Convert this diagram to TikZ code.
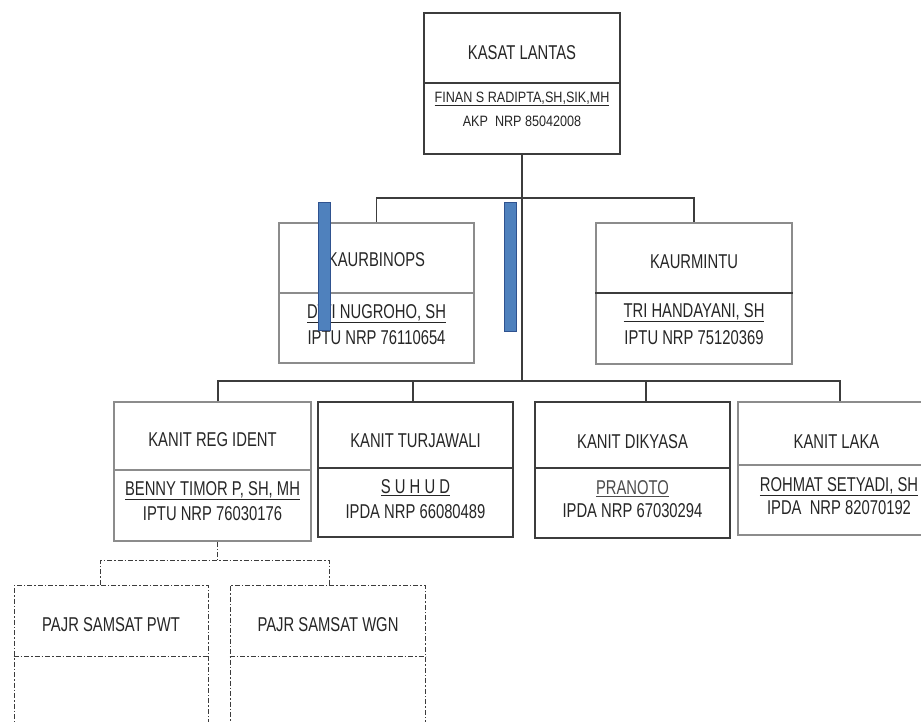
\documentclass[tikz,border=0pt]{standalone}
\usepackage{fontspec}
\setmainfont{Liberation Sans}[FakeStretch=0.74]
\newfontfamily\smallnarrow{Liberation Sans}[FakeStretch=0.84]
\definecolor{linec}{HTML}{3C3C3C}
\definecolor{greyc}{HTML}{8C8C8C}
\definecolor{barfill}{HTML}{4F81BD}
\definecolor{bardraw}{HTML}{2F528F}
\begin{document}
\begin{tikzpicture}[x=1pt,y=-1pt,
  darkbox/.style={draw=linec, line width=1.3pt, rectangle, inner sep=0pt},
  greybox/.style={draw=greyc, line width=1.5pt, rectangle, inner sep=0pt},
  dashbox/.style={draw=linec, line width=1pt, dash pattern=on 5pt off 2pt on 1.5pt off 2pt, rectangle, inner sep=0pt},
  ttl/.style={inner sep=0pt, font=\fontsize{20}{22}\selectfont, text=black!85},
  sub/.style={inner sep=0pt, font=\fontsize{20}{22}\selectfont, text=black!85},
  ksub/.style={inner sep=0pt, font=\smallnarrow\fontsize{15}{17}\selectfont, text=black!85},
  conn/.style={draw=linec, line width=1.2pt},
  dconn/.style={draw=linec, line width=1pt, dash pattern=on 5pt off 2pt on 1.5pt off 2pt},
  bluebar/.style={rectangle, fill=barfill, draw=bardraw, line width=1pt, inner sep=0pt, minimum width=12pt}
]
\clip (0,0) rectangle (921,722);
\fill[white] (0,0) rectangle (921,722);

% boxes
\node[darkbox, minimum width=196pt, minimum height=141pt] (kasat) at (522,83.5) {};
\node[greybox, minimum width=195pt, minimum height=140pt] (binops) at (376.5,293) {};
\node[greybox, minimum width=196pt, minimum height=141pt] (mintu) at (694,293.5) {};
\node[greybox, minimum width=197pt, minimum height=139pt] (reg) at (212.5,471.5) {};
\node[darkbox, minimum width=195pt, minimum height=135pt] (turja) at (415.5,469.5) {};
\node[darkbox, minimum width=195pt, minimum height=136pt] (dikya) at (632.5,470) {};
\node[greybox, minimum width=197pt, minimum height=133pt] (laka) at (836.5,468.5) {};
\node[dashbox, minimum width=194pt, minimum height=155pt] (pwt) at (111,662.5) {};
\node[dashbox, minimum width=195pt, minimum height=155pt] (wgn) at (327.5,662.5) {};

% dividers
\draw[linec, line width=1.3pt] (kasat.west |- 0,83) -- (kasat.east |- 0,83);
\draw[greyc, line width=1.5pt] (binops.west |- 0,293) -- (binops.east |- 0,293);
\draw[linec, line width=1.3pt] (mintu.west |- 0,293) -- (mintu.east |- 0,293);
\draw[greyc, line width=1.5pt] (reg.west |- 0,470) -- (reg.east |- 0,470);
\draw[linec, line width=1.3pt] (turja.west |- 0,468) -- (turja.east |- 0,468);
\draw[linec, line width=1.3pt] (dikya.west |- 0,468) -- (dikya.east |- 0,468);
\draw[greyc, line width=1.5pt] (laka.west |- 0,465) -- (laka.east |- 0,465);
\draw[linec, line width=1pt, dash pattern=on 5pt off 2pt on 1.5pt off 2pt] (pwt.west |- 0,656) -- (pwt.east |- 0,656);
\draw[linec, line width=1pt, dash pattern=on 5pt off 2pt on 1.5pt off 2pt] (wgn.west |- 0,656) -- (wgn.east |- 0,656);

% texts
\node[ttl] (kasat-t) at (522,53) {KASAT LANTAS};
\node[ksub] (kasat-n) at (522,99) {\underline{FINAN S RADIPTA,SH,SIK,MH}};
\node[ksub] (kasat-r) at (522,121) {AKP\ \ NRP 85042008};

\node[ttl] (binops-t) at (376.5,260) {KAURBINOPS};
\node[sub] (binops-n) at (376.5,314) {\underline{DWI NUGROHO, SH}};
\node[sub] (binops-r) at (376.5,338) {IPTU NRP 76110654};

\node[ttl] (mintu-t) at (694,262) {KAURMINTU};
\node[sub] (mintu-n) at (694,313) {\underline{TRI HANDAYANI, SH}};
\node[sub] (mintu-r) at (694,338) {IPTU NRP 75120369};

\node[ttl] (reg-t) at (212.5,440) {KANIT REG IDENT};
\node[sub] (reg-n) at (212.5,491) {\underline{BENNY TIMOR P, SH, MH}};
\node[sub] (reg-r) at (212.5,514) {IPTU NRP 76030176};

\node[ttl] (turja-t) at (415.5,441) {KANIT TURJAWALI};
\node[sub] (turja-n) at (415.5,488) {\underline{S U H U D}};
\node[sub] (turja-r) at (415.5,512) {IPDA NRP 66080489};

\node[ttl] (dikya-t) at (632.5,442) {KANIT DIKYASA};
\node[sub, text=black!70] (dikya-n) at (632.5,489) {\underline{PRANOTO}};
\node[sub] (dikya-r) at (632.5,511) {IPDA NRP 67030294};

\node[ttl] (laka-t) at (836.5,442) {KANIT LAKA};
\node[sub] (laka-n) at (839,487) {\underline{ROHMAT SETYADI, SH}};
\node[sub] (laka-r) at (839,508) {IPDA\ \ NRP 82070192};

\node[ttl] (pwt-t) at (111,625) {PAJR SAMSAT PWT};
\node[ttl] (wgn-t) at (328,625) {PAJR SAMSAT WGN};

% connector coordinates
\coordinate (ub) at (523,198);
\coordinate (lb) at (523,381);
\coordinate (d1) at (218,381);
\coordinate (d2) at (413,381);
\coordinate (d3) at (646,381);
\coordinate (d4) at (840,381);
\coordinate (db) at (217,560);
\coordinate (e1) at (100,560);
\coordinate (e2) at (329,560);

% connectors
\draw[conn] (kasat.south) -- (kasat.south |- lb);
\draw[conn] (binops.north) -- (binops.north |- ub) -- (mintu.north |- ub) -- (mintu.north);
\draw[conn] (d1 |- reg.north) -- (d1) -- (d4) -- (d4 |- laka.north);
\draw[conn] (d2) -- (d2 |- turja.north);
\draw[conn] (d3) -- (d3 |- dikya.north);
\draw[dconn] (db |- reg.south) -- (db);
\draw[dconn] (e1 |- pwt.north) -- (e1) -- (e2) -- (e2 |- wgn.north);

% blue bars
\node[bluebar, minimum height=127pt] (bar1) at (324,266.5) {};
\node[bluebar, minimum height=128pt] (bar2) at (510,267) {};
\end{tikzpicture}
\end{document}
